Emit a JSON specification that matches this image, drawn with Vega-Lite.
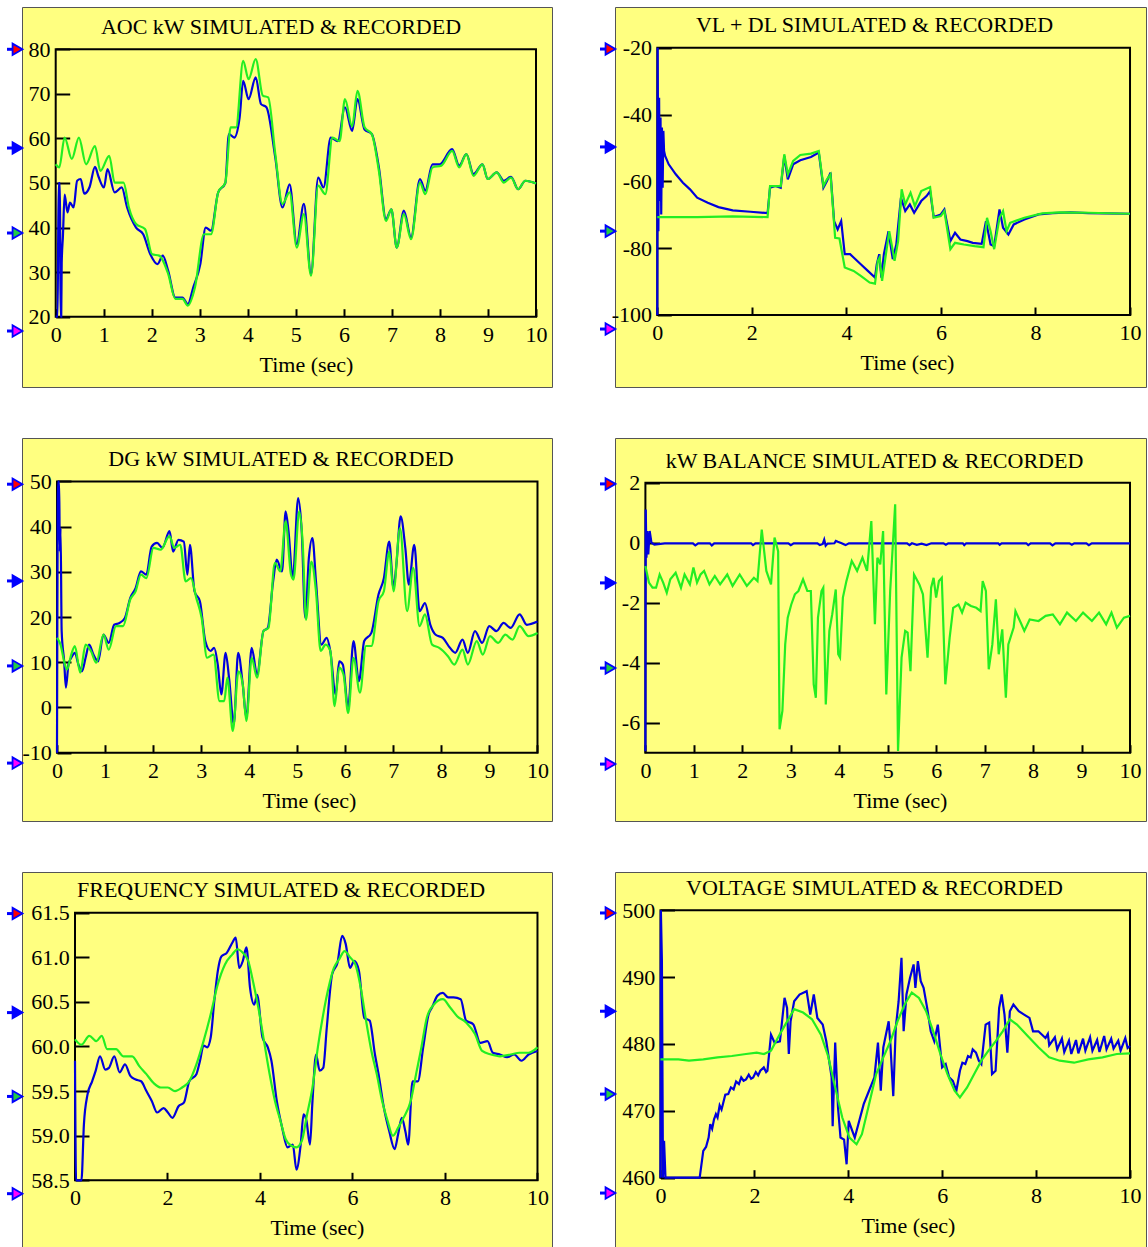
{
  "$schema": "https://vega.github.io/schema/vega-lite/v6.json",
  "background": "white",
  "padding": {"left": 4, "top": 6, "right": 2, "bottom": 0},
  "bounds": "flush",
  "columns": 2,
  "spacing": {"row": 51, "column": 63},
  "config": {
    "view": {"fill": "#FFFF80", "stroke": "#555555", "strokeWidth": 1},
    "font": "Liberation Serif",
    "axis": {"domain": false, "grid": false, "tickColor": "black", "tickWidth": 2, "labelFont": "Liberation Serif", "labelFontSize": 22, "labelColor": "black", "titleFont": "Liberation Serif", "titleFontSize": 22, "titleFontWeight": "normal", "titleColor": "black", "zindex": 1, "labelOverlap": false, "labelFlush": false},
    "axisX": {"tickSize": -8, "labelPadding": 32.3, "labelBaseline": "alphabetic", "titleBaseline": "alphabetic", "titleY": 54.5, "titleAlign": "center"},
    "axisY": {"tickSize": -14, "labelPadding": 19.7, "labelAlign": "right", "labelBaseline": "middle"},
    "title": {"font": "Liberation Serif", "fontSize": 22, "fontWeight": "normal", "color": "black", "anchor": "middle", "baseline": "alphabetic", "dx": -6, "frame": "group"},
    "line": {"strokeWidth": 2.2}
  },
  "datasets": {
    "p1": [
      {"s":"rec","t":0,"v":20},{"s":"rec","t":0.04,"v":20},{"s":"rec","t":0.06,"v":50},{"s":"rec","t":0.09,"v":50},{"s":"rec","t":0.1,"v":20},{"s":"rec","t":0.115,"v":20},{"s":"rec","t":0.125,"v":32},{"s":"rec","t":0.15,"v":38},{"s":"rec","t":0.186,"v":47.4},{"s":"rec","t":0.245,"v":43.4},{"s":"rec","t":0.297,"v":45.6},{"s":"rec","t":0.372,"v":44.5},{"s":"rec","t":0.446,"v":50.5},{"s":"rec","t":0.52,"v":50.9},{"s":"rec","t":0.595,"v":47.6},{"s":"rec","t":0.706,"v":49.1},{"s":"rec","t":0.818,"v":53.6},{"s":"rec","t":0.892,"v":51.4},{"s":"rec","t":1.004,"v":49},{"s":"rec","t":1.078,"v":53.1},{"s":"rec","t":1.227,"v":47.9},{"s":"rec","t":1.375,"v":49},{"s":"rec","t":1.487,"v":44.5},{"s":"rec","t":1.673,"v":40},{"s":"rec","t":1.822,"v":38.5},{"s":"rec","t":1.97,"v":34},{"s":"rec","t":2.119,"v":31.8},{"s":"rec","t":2.23,"v":33.7},{"s":"rec","t":2.342,"v":30.3},{"s":"rec","t":2.491,"v":24.3},{"s":"rec","t":2.639,"v":24.3},{"s":"rec","t":2.751,"v":22.8},{"s":"rec","t":2.862,"v":26.5},{"s":"rec","t":3.011,"v":31.8},{"s":"rec","t":3.123,"v":40},{"s":"rec","t":3.234,"v":39.3},{"s":"rec","t":3.383,"v":47.9},{"s":"rec","t":3.532,"v":50},{"s":"rec","t":3.606,"v":61},{"s":"rec","t":3.717,"v":60.2},{"s":"rec","t":3.829,"v":64.7},{"s":"rec","t":3.903,"v":72.9},{"s":"rec","t":4.015,"v":68.8},{"s":"rec","t":4.164,"v":73.7},{"s":"rec","t":4.275,"v":67.7},{"s":"rec","t":4.387,"v":67},{"s":"rec","t":4.572,"v":55.7},{"s":"rec","t":4.721,"v":44.5},{"s":"rec","t":4.87,"v":49.7},{"s":"rec","t":5.019,"v":36.3},{"s":"rec","t":5.167,"v":45.3},{"s":"rec","t":5.316,"v":29.6},{"s":"rec","t":5.465,"v":51.2},{"s":"rec","t":5.576,"v":49},{"s":"rec","t":5.725,"v":60.2},{"s":"rec","t":5.874,"v":59.4},{"s":"rec","t":6.022,"v":67},{"s":"rec","t":6.171,"v":61.7},{"s":"rec","t":6.283,"v":68.8},{"s":"rec","t":6.431,"v":62},{"s":"rec","t":6.58,"v":61},{"s":"rec","t":6.729,"v":53.5},{"s":"rec","t":6.877,"v":41.9},{"s":"rec","t":6.989,"v":44.1},{"s":"rec","t":7.1,"v":35.5},{"s":"rec","t":7.249,"v":43.8},{"s":"rec","t":7.398,"v":37.8},{"s":"rec","t":7.584,"v":50.9},{"s":"rec","t":7.695,"v":48.3},{"s":"rec","t":7.844,"v":54.2},{"s":"rec","t":7.993,"v":54.2},{"s":"rec","t":8.253,"v":57.6},{"s":"rec","t":8.401,"v":53.9},{"s":"rec","t":8.55,"v":56.5},{"s":"rec","t":8.699,"v":52},{"s":"rec","t":8.885,"v":54.2},{"s":"rec","t":8.996,"v":50.9},{"s":"rec","t":9.182,"v":52.4},{"s":"rec","t":9.331,"v":50.5},{"s":"rec","t":9.48,"v":51.4},{"s":"rec","t":9.628,"v":48.6},{"s":"rec","t":9.777,"v":50.5},{"s":"rec","t":10,"v":49.9},
      {"s":"sim","t":0,"v":54.2},{"s":"sim","t":0.074,"v":53.5},{"s":"sim","t":0.186,"v":60.2},{"s":"sim","t":0.335,"v":55.4},{"s":"sim","t":0.483,"v":60.2},{"s":"sim","t":0.632,"v":54.2},{"s":"sim","t":0.818,"v":58.3},{"s":"sim","t":0.929,"v":52.7},{"s":"sim","t":1.115,"v":56.1},{"s":"sim","t":1.227,"v":50.1},{"s":"sim","t":1.413,"v":50.1},{"s":"sim","t":1.524,"v":44.5},{"s":"sim","t":1.673,"v":40.8},{"s":"sim","t":1.859,"v":39.7},{"s":"sim","t":2.007,"v":34},{"s":"sim","t":2.156,"v":33.7},{"s":"sim","t":2.342,"v":29.6},{"s":"sim","t":2.491,"v":24},{"s":"sim","t":2.639,"v":24},{"s":"sim","t":2.751,"v":22.5},{"s":"sim","t":2.9,"v":26.6},{"s":"sim","t":3.086,"v":38.5},{"s":"sim","t":3.234,"v":38.5},{"s":"sim","t":3.383,"v":47.9},{"s":"sim","t":3.532,"v":50.1},{"s":"sim","t":3.643,"v":62.5},{"s":"sim","t":3.755,"v":62.5},{"s":"sim","t":3.903,"v":77.4},{"s":"sim","t":4.015,"v":73.3},{"s":"sim","t":4.164,"v":77.8},{"s":"sim","t":4.312,"v":69.6},{"s":"sim","t":4.424,"v":69.2},{"s":"sim","t":4.572,"v":56.5},{"s":"sim","t":4.721,"v":45.3},{"s":"sim","t":4.87,"v":47.9},{"s":"sim","t":5.019,"v":35.5},{"s":"sim","t":5.167,"v":43},{"s":"sim","t":5.316,"v":29.2},{"s":"sim","t":5.465,"v":49.4},{"s":"sim","t":5.613,"v":47.5},{"s":"sim","t":5.762,"v":60.2},{"s":"sim","t":5.911,"v":59.4},{"s":"sim","t":6.022,"v":68.8},{"s":"sim","t":6.171,"v":62.7},{"s":"sim","t":6.283,"v":70.7},{"s":"sim","t":6.431,"v":62.5},{"s":"sim","t":6.58,"v":61},{"s":"sim","t":6.729,"v":52.7},{"s":"sim","t":6.877,"v":41.5},{"s":"sim","t":6.989,"v":44.1},{"s":"sim","t":7.1,"v":35.5},{"s":"sim","t":7.249,"v":43},{"s":"sim","t":7.398,"v":37.4},{"s":"sim","t":7.584,"v":50.1},{"s":"sim","t":7.695,"v":47.5},{"s":"sim","t":7.844,"v":53.5},{"s":"sim","t":8.03,"v":53.9},{"s":"sim","t":8.253,"v":57.2},{"s":"sim","t":8.401,"v":53.5},{"s":"sim","t":8.55,"v":56.5},{"s":"sim","t":8.699,"v":51.6},{"s":"sim","t":8.885,"v":54.2},{"s":"sim","t":8.996,"v":50.9},{"s":"sim","t":9.182,"v":52.4},{"s":"sim","t":9.331,"v":50.1},{"s":"sim","t":9.48,"v":51.2},{"s":"sim","t":9.628,"v":48.6},{"s":"sim","t":9.777,"v":50.5},{"s":"sim","t":10,"v":49.9}
    ],
    "p2": [
      {"s":"rec","t":0,"v":-100},{"s":"rec","t":0.008,"v":-20},{"s":"rec","t":0.023,"v":-74.9},{"s":"rec","t":0.038,"v":-35},{"s":"rec","t":0.053,"v":-65.9},{"s":"rec","t":0.068,"v":-40.9},{"s":"rec","t":0.083,"v":-69.9},{"s":"rec","t":0.098,"v":-43.9},{"s":"rec","t":0.113,"v":-61.9},{"s":"rec","t":0.128,"v":-44.9},{"s":"rec","t":0.143,"v":-50.9},{"s":"rec","t":0.166,"v":-52.4},{"s":"rec","t":0.241,"v":-54.9},{"s":"rec","t":0.391,"v":-57.9},{"s":"rec","t":0.542,"v":-60.4},{"s":"rec","t":0.692,"v":-62.4},{"s":"rec","t":0.843,"v":-64.9},{"s":"rec","t":1.068,"v":-66.4},{"s":"rec","t":1.294,"v":-67.7},{"s":"rec","t":1.595,"v":-68.7},{"s":"rec","t":1.971,"v":-69.1},{"s":"rec","t":2.333,"v":-69.5},{"s":"rec","t":2.385,"v":-61.9},{"s":"rec","t":2.498,"v":-61.4},{"s":"rec","t":2.611,"v":-61.9},{"s":"rec","t":2.686,"v":-52.4},{"s":"rec","t":2.761,"v":-59.4},{"s":"rec","t":2.874,"v":-54.9},{"s":"rec","t":3.025,"v":-53.7},{"s":"rec","t":3.251,"v":-52.7},{"s":"rec","t":3.416,"v":-51.4},{"s":"rec","t":3.514,"v":-61.9},{"s":"rec","t":3.589,"v":-59.9},{"s":"rec","t":3.664,"v":-57.4},{"s":"rec","t":3.74,"v":-71.9},{"s":"rec","t":3.815,"v":-74.4},{"s":"rec","t":3.89,"v":-71.9},{"s":"rec","t":3.965,"v":-81.8},{"s":"rec","t":4.078,"v":-81.8},{"s":"rec","t":4.153,"v":-82.8},{"s":"rec","t":4.304,"v":-84.8},{"s":"rec","t":4.454,"v":-86.8},{"s":"rec","t":4.605,"v":-88.8},{"s":"rec","t":4.643,"v":-84.8},{"s":"rec","t":4.695,"v":-81.8},{"s":"rec","t":4.74,"v":-88.8},{"s":"rec","t":4.793,"v":-81.8},{"s":"rec","t":4.891,"v":-74.9},{"s":"rec","t":4.981,"v":-83.3},{"s":"rec","t":5.056,"v":-78.9},{"s":"rec","t":5.154,"v":-64.9},{"s":"rec","t":5.245,"v":-68.9},{"s":"rec","t":5.342,"v":-66.9},{"s":"rec","t":5.433,"v":-69.4},{"s":"rec","t":5.583,"v":-65.9},{"s":"rec","t":5.696,"v":-64.4},{"s":"rec","t":5.771,"v":-62.9},{"s":"rec","t":5.847,"v":-70.7},{"s":"rec","t":5.997,"v":-69.9},{"s":"rec","t":6.072,"v":-68.4},{"s":"rec","t":6.2,"v":-77.9},{"s":"rec","t":6.298,"v":-75.4},{"s":"rec","t":6.411,"v":-77.4},{"s":"rec","t":6.561,"v":-77.9},{"s":"rec","t":6.674,"v":-78.4},{"s":"rec","t":6.862,"v":-78.7},{"s":"rec","t":6.953,"v":-71.9},{"s":"rec","t":7.05,"v":-78.9},{"s":"rec","t":7.126,"v":-79.4},{"s":"rec","t":7.239,"v":-68.4},{"s":"rec","t":7.314,"v":-73.9},{"s":"rec","t":7.427,"v":-75.9},{"s":"rec","t":7.54,"v":-72.9},{"s":"rec","t":7.765,"v":-71.4},{"s":"rec","t":8.066,"v":-69.9},{"s":"rec","t":8.367,"v":-69.5},{"s":"rec","t":8.743,"v":-69.3},{"s":"rec","t":9.12,"v":-69.5},{"s":"rec","t":9.496,"v":-69.6},{"s":"rec","t":10,"v":-69.7},
      {"s":"sim","t":0,"v":-70.7},{"s":"sim","t":0.843,"v":-70.7},{"s":"sim","t":1.595,"v":-70.5},{"s":"sim","t":2.333,"v":-70.7},{"s":"sim","t":2.385,"v":-61.4},{"s":"sim","t":2.498,"v":-61.4},{"s":"sim","t":2.611,"v":-61.4},{"s":"sim","t":2.686,"v":-51.9},{"s":"sim","t":2.761,"v":-57.9},{"s":"sim","t":2.874,"v":-53.9},{"s":"sim","t":3.025,"v":-52.1},{"s":"sim","t":3.251,"v":-51.7},{"s":"sim","t":3.416,"v":-50.9},{"s":"sim","t":3.514,"v":-61.4},{"s":"sim","t":3.589,"v":-59.4},{"s":"sim","t":3.664,"v":-57.9},{"s":"sim","t":3.762,"v":-76.9},{"s":"sim","t":3.853,"v":-77.1},{"s":"sim","t":3.965,"v":-85.8},{"s":"sim","t":4.153,"v":-86.8},{"s":"sim","t":4.304,"v":-88.3},{"s":"sim","t":4.492,"v":-90.3},{"s":"sim","t":4.605,"v":-90.6},{"s":"sim","t":4.665,"v":-83.8},{"s":"sim","t":4.703,"v":-82.8},{"s":"sim","t":4.755,"v":-89.8},{"s":"sim","t":4.816,"v":-83.8},{"s":"sim","t":4.906,"v":-74.9},{"s":"sim","t":5.019,"v":-83.8},{"s":"sim","t":5.094,"v":-77.9},{"s":"sim","t":5.169,"v":-62.4},{"s":"sim","t":5.245,"v":-66.9},{"s":"sim","t":5.357,"v":-63.4},{"s":"sim","t":5.448,"v":-67.4},{"s":"sim","t":5.583,"v":-62.9},{"s":"sim","t":5.771,"v":-61.7},{"s":"sim","t":5.847,"v":-70.9},{"s":"sim","t":5.997,"v":-70.4},{"s":"sim","t":6.072,"v":-68.9},{"s":"sim","t":6.2,"v":-80.3},{"s":"sim","t":6.298,"v":-78.4},{"s":"sim","t":6.486,"v":-78.9},{"s":"sim","t":6.712,"v":-79.4},{"s":"sim","t":6.9,"v":-79.7},{"s":"sim","t":6.975,"v":-70.9},{"s":"sim","t":7.05,"v":-74.9},{"s":"sim","t":7.126,"v":-80.3},{"s":"sim","t":7.239,"v":-70.9},{"s":"sim","t":7.314,"v":-68.9},{"s":"sim","t":7.389,"v":-74.9},{"s":"sim","t":7.464,"v":-72.4},{"s":"sim","t":7.765,"v":-70.9},{"s":"sim","t":8.141,"v":-69.6},{"s":"sim","t":8.518,"v":-69.3},{"s":"sim","t":9.12,"v":-69.4},{"s":"sim","t":10,"v":-69.7}
    ],
    "p3": [
      {"s":"rec","t":0,"v":-10},{"s":"rec","t":0.022,"v":50},{"s":"rec","t":0.045,"v":50},{"s":"rec","t":0.059,"v":34.5},{"s":"rec","t":0.074,"v":39.7},{"s":"rec","t":0.097,"v":16.9},{"s":"rec","t":0.149,"v":10.2},{"s":"rec","t":0.186,"v":4.4},{"s":"rec","t":0.238,"v":9.5},{"s":"rec","t":0.297,"v":11},{"s":"rec","t":0.372,"v":12.1},{"s":"rec","t":0.446,"v":9.5},{"s":"rec","t":0.52,"v":8},{"s":"rec","t":0.595,"v":11},{"s":"rec","t":0.669,"v":13.9},{"s":"rec","t":0.758,"v":11.7},{"s":"rec","t":0.855,"v":10.2},{"s":"rec","t":0.967,"v":16.1},{"s":"rec","t":1.078,"v":14.3},{"s":"rec","t":1.19,"v":18.3},{"s":"rec","t":1.301,"v":18.7},{"s":"rec","t":1.413,"v":19.8},{"s":"rec","t":1.524,"v":24.2},{"s":"rec","t":1.636,"v":26.4},{"s":"rec","t":1.747,"v":30.1},{"s":"rec","t":1.859,"v":29.4},{"s":"rec","t":1.97,"v":35.6},{"s":"rec","t":2.082,"v":36.4},{"s":"rec","t":2.193,"v":35.3},{"s":"rec","t":2.342,"v":39},{"s":"rec","t":2.416,"v":34.5},{"s":"rec","t":2.528,"v":37.1},{"s":"rec","t":2.639,"v":36.7},{"s":"rec","t":2.714,"v":29.4},{"s":"rec","t":2.766,"v":36},{"s":"rec","t":2.862,"v":25.7},{"s":"rec","t":2.974,"v":23.5},{"s":"rec","t":3.086,"v":14.7},{"s":"rec","t":3.197,"v":12.5},{"s":"rec","t":3.271,"v":13.2},{"s":"rec","t":3.346,"v":9.5},{"s":"rec","t":3.42,"v":2.9},{"s":"rec","t":3.509,"v":12.1},{"s":"rec","t":3.584,"v":6.2},{"s":"rec","t":3.68,"v":-3.7},{"s":"rec","t":3.77,"v":12.1},{"s":"rec","t":3.866,"v":5.1},{"s":"rec","t":3.941,"v":-2.3},{"s":"rec","t":4.052,"v":13.2},{"s":"rec","t":4.164,"v":7.3},{"s":"rec","t":4.297,"v":16.9},{"s":"rec","t":4.387,"v":17.6},{"s":"rec","t":4.498,"v":27.9},{"s":"rec","t":4.572,"v":32.7},{"s":"rec","t":4.684,"v":30.1},{"s":"rec","t":4.758,"v":43.4},{"s":"rec","t":4.818,"v":39},{"s":"rec","t":4.907,"v":28.6},{"s":"rec","t":5.019,"v":46.3},{"s":"rec","t":5.093,"v":39},{"s":"rec","t":5.167,"v":19.8},{"s":"rec","t":5.242,"v":33.1},{"s":"rec","t":5.316,"v":37.5},{"s":"rec","t":5.39,"v":27.9},{"s":"rec","t":5.502,"v":13.9},{"s":"rec","t":5.613,"v":15.4},{"s":"rec","t":5.688,"v":12.5},{"s":"rec","t":5.799,"v":2.9},{"s":"rec","t":5.874,"v":10.2},{"s":"rec","t":5.948,"v":9.5},{"s":"rec","t":6.059,"v":0},{"s":"rec","t":6.171,"v":14.7},{"s":"rec","t":6.283,"v":5.8},{"s":"rec","t":6.394,"v":14.7},{"s":"rec","t":6.543,"v":16.5},{"s":"rec","t":6.691,"v":25},{"s":"rec","t":6.803,"v":28.6},{"s":"rec","t":6.914,"v":36.7},{"s":"rec","t":7.004,"v":26.4},{"s":"rec","t":7.063,"v":31.6},{"s":"rec","t":7.152,"v":42.3},{"s":"rec","t":7.249,"v":35.3},{"s":"rec","t":7.323,"v":27.2},{"s":"rec","t":7.435,"v":36},{"s":"rec","t":7.546,"v":21.3},{"s":"rec","t":7.658,"v":23.1},{"s":"rec","t":7.77,"v":18.3},{"s":"rec","t":7.881,"v":16.1},{"s":"rec","t":8.03,"v":15.4},{"s":"rec","t":8.178,"v":13.2},{"s":"rec","t":8.29,"v":12.1},{"s":"rec","t":8.439,"v":15},{"s":"rec","t":8.55,"v":12.1},{"s":"rec","t":8.699,"v":16.9},{"s":"rec","t":8.848,"v":14.3},{"s":"rec","t":8.996,"v":18},{"s":"rec","t":9.145,"v":16.9},{"s":"rec","t":9.294,"v":18.7},{"s":"rec","t":9.442,"v":17.6},{"s":"rec","t":9.628,"v":20.6},{"s":"rec","t":9.777,"v":18.3},{"s":"rec","t":10,"v":19},
      {"s":"sim","t":0,"v":15.4},{"s":"sim","t":0.074,"v":13.9},{"s":"sim","t":0.149,"v":10.2},{"s":"sim","t":0.208,"v":8.4},{"s":"sim","t":0.297,"v":11.7},{"s":"sim","t":0.372,"v":13.6},{"s":"sim","t":0.483,"v":7.7},{"s":"sim","t":0.595,"v":13.9},{"s":"sim","t":0.706,"v":12.5},{"s":"sim","t":0.818,"v":9.9},{"s":"sim","t":0.967,"v":16.1},{"s":"sim","t":1.078,"v":12.8},{"s":"sim","t":1.227,"v":18},{"s":"sim","t":1.375,"v":18},{"s":"sim","t":1.524,"v":23.9},{"s":"sim","t":1.636,"v":25.7},{"s":"sim","t":1.747,"v":29.4},{"s":"sim","t":1.859,"v":28.6},{"s":"sim","t":2.007,"v":35.3},{"s":"sim","t":2.156,"v":34.9},{"s":"sim","t":2.342,"v":37.9},{"s":"sim","t":2.439,"v":35.3},{"s":"sim","t":2.565,"v":36},{"s":"sim","t":2.677,"v":27.9},{"s":"sim","t":2.788,"v":28.6},{"s":"sim","t":2.9,"v":24.2},{"s":"sim","t":3.011,"v":19.8},{"s":"sim","t":3.123,"v":11},{"s":"sim","t":3.257,"v":11.7},{"s":"sim","t":3.383,"v":1.4},{"s":"sim","t":3.48,"v":1.4},{"s":"sim","t":3.546,"v":6.6},{"s":"sim","t":3.658,"v":-5.2},{"s":"sim","t":3.777,"v":8},{"s":"sim","t":3.866,"v":5.1},{"s":"sim","t":3.941,"v":-3},{"s":"sim","t":4.052,"v":11},{"s":"sim","t":4.164,"v":6.6},{"s":"sim","t":4.297,"v":16.9},{"s":"sim","t":4.401,"v":17.6},{"s":"sim","t":4.535,"v":32},{"s":"sim","t":4.647,"v":30.1},{"s":"sim","t":4.758,"v":41.2},{"s":"sim","t":4.87,"v":29.4},{"s":"sim","t":4.922,"v":28.3},{"s":"sim","t":5.041,"v":43.4},{"s":"sim","t":5.115,"v":36},{"s":"sim","t":5.182,"v":19.4},{"s":"sim","t":5.294,"v":32.3},{"s":"sim","t":5.39,"v":25.7},{"s":"sim","t":5.487,"v":12.5},{"s":"sim","t":5.591,"v":13.9},{"s":"sim","t":5.688,"v":12.5},{"s":"sim","t":5.777,"v":0.3},{"s":"sim","t":5.874,"v":8.8},{"s":"sim","t":5.963,"v":7.3},{"s":"sim","t":6.059,"v":-1.2},{"s":"sim","t":6.171,"v":11},{"s":"sim","t":6.305,"v":3.3},{"s":"sim","t":6.431,"v":13.6},{"s":"sim","t":6.543,"v":13.6},{"s":"sim","t":6.691,"v":23.5},{"s":"sim","t":6.803,"v":25.7},{"s":"sim","t":6.914,"v":34.5},{"s":"sim","t":7.004,"v":25.7},{"s":"sim","t":7.138,"v":39.7},{"s":"sim","t":7.286,"v":21.3},{"s":"sim","t":7.413,"v":30.9},{"s":"sim","t":7.546,"v":18},{"s":"sim","t":7.658,"v":20.6},{"s":"sim","t":7.807,"v":13.9},{"s":"sim","t":7.955,"v":13.2},{"s":"sim","t":8.141,"v":11.3},{"s":"sim","t":8.268,"v":9.5},{"s":"sim","t":8.439,"v":12.8},{"s":"sim","t":8.55,"v":9.5},{"s":"sim","t":8.736,"v":14.7},{"s":"sim","t":8.862,"v":11.7},{"s":"sim","t":9.011,"v":15.8},{"s":"sim","t":9.182,"v":14.3},{"s":"sim","t":9.331,"v":16.1},{"s":"sim","t":9.48,"v":15},{"s":"sim","t":9.628,"v":18},{"s":"sim","t":9.814,"v":15.8},{"s":"sim","t":10,"v":16.5}
    ],
    "p4": [
      {"s":"rec","t":0,"v":-6.95},{"s":"rec","t":0.007,"v":1.11},{"s":"rec","t":0.022,"v":-0.5},{"s":"rec","t":0.037,"v":0.39},{"s":"rec","t":0.059,"v":-0.39},{"s":"rec","t":0.088,"v":0.39},{"s":"rec","t":0.125,"v":0},{"s":"rec","t":0.184,"v":-0.06},{"s":"rec","t":0.4,"v":-0.02},{"s":"rec","t":0.98,"v":-0.02},{"s":"rec","t":1.03,"v":-0.09},{"s":"rec","t":1.09,"v":-0.02},{"s":"rec","t":1.33,"v":-0.02},{"s":"rec","t":1.37,"v":-0.09},{"s":"rec","t":1.42,"v":-0.02},{"s":"rec","t":2.18,"v":-0.02},{"s":"rec","t":2.22,"v":-0.08},{"s":"rec","t":2.27,"v":-0.02},{"s":"rec","t":2.95,"v":-0.02},{"s":"rec","t":3,"v":-0.08},{"s":"rec","t":3.06,"v":-0.02},{"s":"rec","t":3.55,"v":-0.02},{"s":"rec","t":3.6,"v":-0.08},{"s":"rec","t":3.66,"v":-0.04},{"s":"rec","t":3.69,"v":0.1},{"s":"rec","t":3.72,"v":-0.1},{"s":"rec","t":3.76,"v":-0.03},{"s":"rec","t":3.9,"v":-0.02},{"s":"rec","t":3.93,"v":0.06},{"s":"rec","t":3.97,"v":0.03},{"s":"rec","t":4.05,"v":-0.02},{"s":"rec","t":4.13,"v":-0.08},{"s":"rec","t":4.2,"v":-0.02},{"s":"rec","t":5.4,"v":-0.02},{"s":"rec","t":5.45,"v":-0.08},{"s":"rec","t":5.5,"v":-0.02},{"s":"rec","t":5.6,"v":-0.07},{"s":"rec","t":5.7,"v":-0.03},{"s":"rec","t":5.8,"v":-0.08},{"s":"rec","t":5.9,"v":-0.02},{"s":"rec","t":6.15,"v":-0.02},{"s":"rec","t":6.2,"v":-0.07},{"s":"rec","t":6.25,"v":-0.02},{"s":"rec","t":6.55,"v":-0.02},{"s":"rec","t":6.58,"v":-0.08},{"s":"rec","t":6.62,"v":-0.02},{"s":"rec","t":7.28,"v":-0.02},{"s":"rec","t":7.31,"v":-0.07},{"s":"rec","t":7.35,"v":-0.02},{"s":"rec","t":7.86,"v":-0.02},{"s":"rec","t":7.9,"v":-0.08},{"s":"rec","t":7.95,"v":-0.02},{"s":"rec","t":8.35,"v":-0.02},{"s":"rec","t":8.4,"v":-0.09},{"s":"rec","t":8.46,"v":-0.02},{"s":"rec","t":8.75,"v":-0.02},{"s":"rec","t":8.8,"v":-0.07},{"s":"rec","t":8.85,"v":-0.02},{"s":"rec","t":9.1,"v":-0.02},{"s":"rec","t":9.15,"v":-0.08},{"s":"rec","t":9.21,"v":-0.02},{"s":"rec","t":10,"v":-0.02},
      {"s":"sim","t":0,"v":-0.78},{"s":"sim","t":0.073,"v":-1.33},{"s":"sim","t":0.147,"v":-1.5},{"s":"sim","t":0.22,"v":-1.5},{"s":"sim","t":0.294,"v":-1.06},{"s":"sim","t":0.367,"v":-1.33},{"s":"sim","t":0.441,"v":-1.67},{"s":"sim","t":0.514,"v":-1.22},{"s":"sim","t":0.624,"v":-1},{"s":"sim","t":0.734,"v":-1.5},{"s":"sim","t":0.808,"v":-1.06},{"s":"sim","t":0.918,"v":-1.39},{"s":"sim","t":0.991,"v":-0.83},{"s":"sim","t":1.065,"v":-1.33},{"s":"sim","t":1.138,"v":-1.06},{"s":"sim","t":1.211,"v":-0.94},{"s":"sim","t":1.322,"v":-1.39},{"s":"sim","t":1.432,"v":-1.11},{"s":"sim","t":1.542,"v":-1.39},{"s":"sim","t":1.689,"v":-1.06},{"s":"sim","t":1.799,"v":-1.44},{"s":"sim","t":1.946,"v":-1.06},{"s":"sim","t":2.093,"v":-1.44},{"s":"sim","t":2.239,"v":-1.17},{"s":"sim","t":2.313,"v":-1.28},{"s":"sim","t":2.401,"v":0.44},{"s":"sim","t":2.496,"v":-0.94},{"s":"sim","t":2.592,"v":-1.39},{"s":"sim","t":2.665,"v":0.17},{"s":"sim","t":2.739,"v":-0.28},{"s":"sim","t":2.768,"v":-6.22},{"s":"sim","t":2.827,"v":-5.61},{"s":"sim","t":2.885,"v":-3.39},{"s":"sim","t":2.937,"v":-2.5},{"s":"sim","t":3.01,"v":-2.06},{"s":"sim","t":3.084,"v":-1.72},{"s":"sim","t":3.157,"v":-1.61},{"s":"sim","t":3.253,"v":-1.22},{"s":"sim","t":3.341,"v":-1.61},{"s":"sim","t":3.414,"v":-1.61},{"s":"sim","t":3.473,"v":-4.72},{"s":"sim","t":3.517,"v":-5.17},{"s":"sim","t":3.561,"v":-2.5},{"s":"sim","t":3.634,"v":-1.61},{"s":"sim","t":3.671,"v":-1.5},{"s":"sim","t":3.722,"v":-5.39},{"s":"sim","t":3.796,"v":-2.94},{"s":"sim","t":3.855,"v":-2.39},{"s":"sim","t":3.928,"v":-1.56},{"s":"sim","t":3.979,"v":-3.72},{"s":"sim","t":4.016,"v":-3.83},{"s":"sim","t":4.075,"v":-1.83},{"s":"sim","t":4.148,"v":-1.28},{"s":"sim","t":4.258,"v":-0.61},{"s":"sim","t":4.369,"v":-0.94},{"s":"sim","t":4.479,"v":-0.5},{"s":"sim","t":4.574,"v":-0.94},{"s":"sim","t":4.662,"v":0.72},{"s":"sim","t":4.736,"v":-2.72},{"s":"sim","t":4.787,"v":-0.5},{"s":"sim","t":4.846,"v":-0.72},{"s":"sim","t":4.905,"v":0.39},{"s":"sim","t":4.971,"v":-5.06},{"s":"sim","t":5.051,"v":-1.61},{"s":"sim","t":5.154,"v":1.28},{"s":"sim","t":5.213,"v":-6.94},{"s":"sim","t":5.286,"v":-3.83},{"s":"sim","t":5.36,"v":-2.94},{"s":"sim","t":5.411,"v":-3},{"s":"sim","t":5.47,"v":-4.28},{"s":"sim","t":5.543,"v":-1.06},{"s":"sim","t":5.653,"v":-1.39},{"s":"sim","t":5.727,"v":-1.72},{"s":"sim","t":5.822,"v":-3.83},{"s":"sim","t":5.896,"v":-1.5},{"s":"sim","t":5.947,"v":-1.17},{"s":"sim","t":5.999,"v":-1.83},{"s":"sim","t":6.057,"v":-1.28},{"s":"sim","t":6.116,"v":-1.17},{"s":"sim","t":6.189,"v":-4.72},{"s":"sim","t":6.278,"v":-3.17},{"s":"sim","t":6.351,"v":-2.17},{"s":"sim","t":6.461,"v":-2.06},{"s":"sim","t":6.535,"v":-2.33},{"s":"sim","t":6.608,"v":-2},{"s":"sim","t":6.718,"v":-2.11},{"s":"sim","t":6.828,"v":-2.17},{"s":"sim","t":6.916,"v":-2.28},{"s":"sim","t":6.96,"v":-1.28},{"s":"sim","t":7.026,"v":-1.61},{"s":"sim","t":7.085,"v":-4.22},{"s":"sim","t":7.159,"v":-3.39},{"s":"sim","t":7.232,"v":-1.89},{"s":"sim","t":7.291,"v":-3.72},{"s":"sim","t":7.364,"v":-2.89},{"s":"sim","t":7.438,"v":-5.17},{"s":"sim","t":7.489,"v":-3.39},{"s":"sim","t":7.599,"v":-2.83},{"s":"sim","t":7.636,"v":-2.28},{"s":"sim","t":7.746,"v":-2.67},{"s":"sim","t":7.819,"v":-2.94},{"s":"sim","t":7.93,"v":-2.56},{"s":"sim","t":8.113,"v":-2.61},{"s":"sim","t":8.26,"v":-2.44},{"s":"sim","t":8.407,"v":-2.39},{"s":"sim","t":8.554,"v":-2.72},{"s":"sim","t":8.7,"v":-2.33},{"s":"sim","t":8.884,"v":-2.61},{"s":"sim","t":9.031,"v":-2.33},{"s":"sim","t":9.214,"v":-2.61},{"s":"sim","t":9.361,"v":-2.33},{"s":"sim","t":9.508,"v":-2.72},{"s":"sim","t":9.618,"v":-2.33},{"s":"sim","t":9.729,"v":-2.83},{"s":"sim","t":9.875,"v":-2.5},{"s":"sim","t":10,"v":-2.44}
    ],
    "p5": [
      {"s":"rec","t":0,"v":59.84},{"s":"rec","t":0.023,"v":58.5},{"s":"rec","t":0.139,"v":58.5},{"s":"rec","t":0.193,"v":59.13},{"s":"rec","t":0.27,"v":59.46},{"s":"rec","t":0.371,"v":59.61},{"s":"rec","t":0.448,"v":59.73},{"s":"rec","t":0.541,"v":59.89},{"s":"rec","t":0.656,"v":59.74},{"s":"rec","t":0.734,"v":59.76},{"s":"rec","t":0.849,"v":59.89},{"s":"rec","t":0.965,"v":59.71},{"s":"rec","t":1.081,"v":59.8},{"s":"rec","t":1.197,"v":59.67},{"s":"rec","t":1.313,"v":59.63},{"s":"rec","t":1.429,"v":59.61},{"s":"rec","t":1.544,"v":59.5},{"s":"rec","t":1.66,"v":59.39},{"s":"rec","t":1.776,"v":59.26},{"s":"rec","t":1.915,"v":59.31},{"s":"rec","t":2.008,"v":59.26},{"s":"rec","t":2.108,"v":59.2},{"s":"rec","t":2.239,"v":59.33},{"s":"rec","t":2.355,"v":59.37},{"s":"rec","t":2.471,"v":59.61},{"s":"rec","t":2.625,"v":59.69},{"s":"rec","t":2.703,"v":59.84},{"s":"rec","t":2.78,"v":60.01},{"s":"rec","t":2.857,"v":59.99},{"s":"rec","t":2.934,"v":60.1},{"s":"rec","t":3.012,"v":60.51},{"s":"rec","t":3.089,"v":60.85},{"s":"rec","t":3.166,"v":61.01},{"s":"rec","t":3.282,"v":61.05},{"s":"rec","t":3.398,"v":61.16},{"s":"rec","t":3.475,"v":61.22},{"s":"rec","t":3.552,"v":60.88},{"s":"rec","t":3.629,"v":60.96},{"s":"rec","t":3.707,"v":61.11},{"s":"rec","t":3.784,"v":60.66},{"s":"rec","t":3.876,"v":60.47},{"s":"rec","t":3.938,"v":60.58},{"s":"rec","t":4.054,"v":60.1},{"s":"rec","t":4.17,"v":59.99},{"s":"rec","t":4.247,"v":59.84},{"s":"rec","t":4.363,"v":59.39},{"s":"rec","t":4.479,"v":59.09},{"s":"rec","t":4.595,"v":58.87},{"s":"rec","t":4.71,"v":58.9},{"s":"rec","t":4.788,"v":58.62},{"s":"rec","t":4.88,"v":58.9},{"s":"rec","t":4.942,"v":59.24},{"s":"rec","t":5.004,"v":59.17},{"s":"rec","t":5.081,"v":58.9},{"s":"rec","t":5.135,"v":59.39},{"s":"rec","t":5.212,"v":59.91},{"s":"rec","t":5.29,"v":59.73},{"s":"rec","t":5.367,"v":59.76},{"s":"rec","t":5.444,"v":60.21},{"s":"rec","t":5.56,"v":60.81},{"s":"rec","t":5.676,"v":60.94},{"s":"rec","t":5.776,"v":61.24},{"s":"rec","t":5.853,"v":61.15},{"s":"rec","t":5.946,"v":60.88},{"s":"rec","t":6.039,"v":60.96},{"s":"rec","t":6.139,"v":60.85},{"s":"rec","t":6.255,"v":60.32},{"s":"rec","t":6.371,"v":60.29},{"s":"rec","t":6.486,"v":59.91},{"s":"rec","t":6.564,"v":59.69},{"s":"rec","t":6.68,"v":59.31},{"s":"rec","t":6.795,"v":59.05},{"s":"rec","t":6.911,"v":58.85},{"s":"rec","t":6.988,"v":59.02},{"s":"rec","t":7.066,"v":59.2},{"s":"rec","t":7.143,"v":59.05},{"s":"rec","t":7.205,"v":58.9},{"s":"rec","t":7.297,"v":59.61},{"s":"rec","t":7.413,"v":59.61},{"s":"rec","t":7.529,"v":59.99},{"s":"rec","t":7.645,"v":60.36},{"s":"rec","t":7.722,"v":60.44},{"s":"rec","t":7.838,"v":60.57},{"s":"rec","t":7.954,"v":60.6},{"s":"rec","t":8.069,"v":60.55},{"s":"rec","t":8.185,"v":60.55},{"s":"rec","t":8.34,"v":60.53},{"s":"rec","t":8.456,"v":60.29},{"s":"rec","t":8.61,"v":60.25},{"s":"rec","t":8.764,"v":60.04},{"s":"rec","t":8.919,"v":60.06},{"s":"rec","t":9.035,"v":59.93},{"s":"rec","t":9.189,"v":59.91},{"s":"rec","t":9.344,"v":59.88},{"s":"rec","t":9.498,"v":59.91},{"s":"rec","t":9.653,"v":59.84},{"s":"rec","t":9.807,"v":59.91},{"s":"rec","t":10,"v":59.95},
      {"s":"sim","t":0,"v":60.08},{"s":"sim","t":0.139,"v":60.02},{"s":"sim","t":0.309,"v":60.12},{"s":"sim","t":0.463,"v":60.06},{"s":"sim","t":0.579,"v":60.12},{"s":"sim","t":0.695,"v":59.97},{"s":"sim","t":0.888,"v":59.97},{"s":"sim","t":1.042,"v":59.89},{"s":"sim","t":1.236,"v":59.89},{"s":"sim","t":1.39,"v":59.78},{"s":"sim","t":1.544,"v":59.69},{"s":"sim","t":1.699,"v":59.59},{"s":"sim","t":1.853,"v":59.54},{"s":"sim","t":2.008,"v":59.54},{"s":"sim","t":2.162,"v":59.5},{"s":"sim","t":2.317,"v":59.54},{"s":"sim","t":2.471,"v":59.61},{"s":"sim","t":2.625,"v":59.8},{"s":"sim","t":2.78,"v":60.06},{"s":"sim","t":2.934,"v":60.36},{"s":"sim","t":3.089,"v":60.7},{"s":"sim","t":3.243,"v":60.92},{"s":"sim","t":3.398,"v":61.03},{"s":"sim","t":3.514,"v":61.09},{"s":"sim","t":3.629,"v":61.05},{"s":"sim","t":3.745,"v":60.96},{"s":"sim","t":3.861,"v":60.7},{"s":"sim","t":3.977,"v":60.4},{"s":"sim","t":4.093,"v":60.04},{"s":"sim","t":4.208,"v":59.69},{"s":"sim","t":4.324,"v":59.39},{"s":"sim","t":4.44,"v":59.17},{"s":"sim","t":4.556,"v":58.96},{"s":"sim","t":4.672,"v":58.89},{"s":"sim","t":4.788,"v":58.87},{"s":"sim","t":4.903,"v":58.94},{"s":"sim","t":5.019,"v":59.24},{"s":"sim","t":5.135,"v":59.54},{"s":"sim","t":5.251,"v":59.99},{"s":"sim","t":5.367,"v":60.36},{"s":"sim","t":5.483,"v":60.66},{"s":"sim","t":5.598,"v":60.88},{"s":"sim","t":5.714,"v":60.98},{"s":"sim","t":5.83,"v":61.07},{"s":"sim","t":5.946,"v":61},{"s":"sim","t":6.062,"v":60.92},{"s":"sim","t":6.178,"v":60.66},{"s":"sim","t":6.293,"v":60.29},{"s":"sim","t":6.409,"v":59.95},{"s":"sim","t":6.525,"v":59.69},{"s":"sim","t":6.641,"v":59.39},{"s":"sim","t":6.757,"v":59.17},{"s":"sim","t":6.873,"v":59},{"s":"sim","t":6.988,"v":59.09},{"s":"sim","t":7.104,"v":59.2},{"s":"sim","t":7.259,"v":59.39},{"s":"sim","t":7.375,"v":59.69},{"s":"sim","t":7.49,"v":59.99},{"s":"sim","t":7.606,"v":60.32},{"s":"sim","t":7.761,"v":60.47},{"s":"sim","t":7.954,"v":60.53},{"s":"sim","t":8.108,"v":60.44},{"s":"sim","t":8.263,"v":60.34},{"s":"sim","t":8.456,"v":60.27},{"s":"sim","t":8.649,"v":60.14},{"s":"sim","t":8.803,"v":59.95},{"s":"sim","t":8.996,"v":59.91},{"s":"sim","t":9.189,"v":59.89},{"s":"sim","t":9.421,"v":59.91},{"s":"sim","t":9.614,"v":59.93},{"s":"sim","t":9.807,"v":59.93},{"s":"sim","t":10,"v":59.99}
    ],
    "p6": [
      {"s":"rec","t":0,"v":460},{"s":"rec","t":0.008,"v":500},{"s":"rec","t":0.03,"v":492.4},{"s":"rec","t":0.053,"v":460},{"s":"rec","t":0.076,"v":465.5},{"s":"rec","t":0.106,"v":460},{"s":"rec","t":0.835,"v":460},{"s":"rec","t":0.911,"v":464},{"s":"rec","t":0.97,"v":464.6},{"s":"rec","t":1.025,"v":466},{"s":"rec","t":1.06,"v":468},{"s":"rec","t":1.1,"v":467.3},{"s":"rec","t":1.139,"v":468.7},{"s":"rec","t":1.18,"v":469.5},{"s":"rec","t":1.215,"v":469},{"s":"rec","t":1.26,"v":470.8},{"s":"rec","t":1.3,"v":470.2},{"s":"rec","t":1.329,"v":471},{"s":"rec","t":1.38,"v":472.4},{"s":"rec","t":1.443,"v":472.5},{"s":"rec","t":1.5,"v":473.5},{"s":"rec","t":1.557,"v":473.2},{"s":"rec","t":1.61,"v":474.4},{"s":"rec","t":1.67,"v":474},{"s":"rec","t":1.72,"v":475},{"s":"rec","t":1.77,"v":474.5},{"s":"rec","t":1.822,"v":474.7},{"s":"rec","t":1.88,"v":475.4},{"s":"rec","t":1.93,"v":474.8},{"s":"rec","t":1.974,"v":475},{"s":"rec","t":2.03,"v":475.8},{"s":"rec","t":2.08,"v":475.3},{"s":"rec","t":2.126,"v":476},{"s":"rec","t":2.2,"v":476.5},{"s":"rec","t":2.25,"v":475.8},{"s":"rec","t":2.278,"v":476},{"s":"rec","t":2.354,"v":481.4},{"s":"rec","t":2.43,"v":480.2},{"s":"rec","t":2.544,"v":480.4},{"s":"rec","t":2.642,"v":486.9},{"s":"rec","t":2.696,"v":485.4},{"s":"rec","t":2.733,"v":478.5},{"s":"rec","t":2.771,"v":483.4},{"s":"rec","t":2.847,"v":486.4},{"s":"rec","t":2.961,"v":487.4},{"s":"rec","t":3.113,"v":487.9},{"s":"rec","t":3.189,"v":484.4},{"s":"rec","t":3.265,"v":487.4},{"s":"rec","t":3.341,"v":483.9},{"s":"rec","t":3.455,"v":482.9},{"s":"rec","t":3.531,"v":480.4},{"s":"rec","t":3.645,"v":475},{"s":"rec","t":3.667,"v":467.7},{"s":"rec","t":3.721,"v":480.2},{"s":"rec","t":3.781,"v":470.5},{"s":"rec","t":3.834,"v":466},{"s":"rec","t":3.91,"v":465.7},{"s":"rec","t":3.964,"v":462},{"s":"rec","t":4.009,"v":468.5},{"s":"rec","t":4.085,"v":467},{"s":"rec","t":4.138,"v":466},{"s":"rec","t":4.214,"v":468},{"s":"rec","t":4.328,"v":471},{"s":"rec","t":4.442,"v":473},{"s":"rec","t":4.556,"v":475},{"s":"rec","t":4.632,"v":480.2},{"s":"rec","t":4.692,"v":473},{"s":"rec","t":4.746,"v":479.5},{"s":"rec","t":4.86,"v":483.4},{"s":"rec","t":4.897,"v":479.9},{"s":"rec","t":4.958,"v":472.2},{"s":"rec","t":5.011,"v":482.4},{"s":"rec","t":5.072,"v":486.4},{"s":"rec","t":5.133,"v":492.9},{"s":"rec","t":5.179,"v":481.9},{"s":"rec","t":5.239,"v":487.4},{"s":"rec","t":5.315,"v":489.9},{"s":"rec","t":5.391,"v":491.9},{"s":"rec","t":5.429,"v":488.4},{"s":"rec","t":5.482,"v":492.4},{"s":"rec","t":5.543,"v":489.4},{"s":"rec","t":5.604,"v":488.4},{"s":"rec","t":5.68,"v":485.4},{"s":"rec","t":5.756,"v":481.9},{"s":"rec","t":5.831,"v":480.4},{"s":"rec","t":5.907,"v":482.9},{"s":"rec","t":5.998,"v":476.5},{"s":"rec","t":6.074,"v":477},{"s":"rec","t":6.15,"v":475},{"s":"rec","t":6.226,"v":474.5},{"s":"rec","t":6.302,"v":473},{"s":"rec","t":6.378,"v":476},{"s":"rec","t":6.43,"v":477.2},{"s":"rec","t":6.492,"v":477},{"s":"rec","t":6.55,"v":478.2},{"s":"rec","t":6.606,"v":478},{"s":"rec","t":6.65,"v":479.2},{"s":"rec","t":6.72,"v":478.7},{"s":"rec","t":6.78,"v":477.5},{"s":"rec","t":6.834,"v":477},{"s":"rec","t":6.925,"v":482.9},{"s":"rec","t":7.001,"v":483.2},{"s":"rec","t":7.062,"v":475.5},{"s":"rec","t":7.137,"v":476},{"s":"rec","t":7.213,"v":485.4},{"s":"rec","t":7.267,"v":487.4},{"s":"rec","t":7.327,"v":484.4},{"s":"rec","t":7.388,"v":478.7},{"s":"rec","t":7.441,"v":484.9},{"s":"rec","t":7.517,"v":485.9},{"s":"rec","t":7.631,"v":484.9},{"s":"rec","t":7.745,"v":484.4},{"s":"rec","t":7.859,"v":483.9},{"s":"rec","t":7.935,"v":481.9},{"s":"rec","t":8.049,"v":481.9},{"s":"rec","t":8.2,"v":480.9},{"s":"rec","t":8.25,"v":481.5},{"s":"rec","t":8.28,"v":479.8},{"s":"rec","t":8.4,"v":481},{"s":"rec","t":8.45,"v":479.2},{"s":"rec","t":8.55,"v":480.8},{"s":"rec","t":8.6,"v":478.8},{"s":"rec","t":8.7,"v":480.5},{"s":"rec","t":8.75,"v":478.5},{"s":"rec","t":8.85,"v":480.6},{"s":"rec","t":8.9,"v":478.6},{"s":"rec","t":9,"v":480.8},{"s":"rec","t":9.05,"v":479},{"s":"rec","t":9.15,"v":481},{"s":"rec","t":9.2,"v":479},{"s":"rec","t":9.3,"v":480.6},{"s":"rec","t":9.35,"v":478.8},{"s":"rec","t":9.45,"v":481.2},{"s":"rec","t":9.5,"v":479.2},{"s":"rec","t":9.6,"v":480.8},{"s":"rec","t":9.65,"v":479.3},{"s":"rec","t":9.75,"v":480.5},{"s":"rec","t":9.8,"v":479},{"s":"rec","t":9.9,"v":480.9},{"s":"rec","t":9.95,"v":479.4},{"s":"rec","t":10,"v":479.7},
      {"s":"sim","t":0,"v":477.7},{"s":"sim","t":0.38,"v":477.7},{"s":"sim","t":0.607,"v":477.5},{"s":"sim","t":0.911,"v":477.7},{"s":"sim","t":1.215,"v":478},{"s":"sim","t":1.519,"v":478.2},{"s":"sim","t":1.822,"v":478.5},{"s":"sim","t":2.05,"v":478.7},{"s":"sim","t":2.202,"v":478.5},{"s":"sim","t":2.354,"v":479},{"s":"sim","t":2.506,"v":481},{"s":"sim","t":2.658,"v":482.9},{"s":"sim","t":2.847,"v":485.2},{"s":"sim","t":3.037,"v":484.7},{"s":"sim","t":3.227,"v":483.7},{"s":"sim","t":3.417,"v":481.4},{"s":"sim","t":3.569,"v":478.2},{"s":"sim","t":3.721,"v":473.5},{"s":"sim","t":3.872,"v":469},{"s":"sim","t":4.024,"v":466},{"s":"sim","t":4.176,"v":465},{"s":"sim","t":4.29,"v":466.5},{"s":"sim","t":4.442,"v":471},{"s":"sim","t":4.594,"v":475.5},{"s":"sim","t":4.746,"v":478},{"s":"sim","t":4.897,"v":480.4},{"s":"sim","t":5.049,"v":483.4},{"s":"sim","t":5.201,"v":485.9},{"s":"sim","t":5.353,"v":487.7},{"s":"sim","t":5.505,"v":486.9},{"s":"sim","t":5.657,"v":484.9},{"s":"sim","t":5.809,"v":481.9},{"s":"sim","t":5.961,"v":478.5},{"s":"sim","t":6.112,"v":475.5},{"s":"sim","t":6.264,"v":473},{"s":"sim","t":6.378,"v":472},{"s":"sim","t":6.53,"v":473.5},{"s":"sim","t":6.682,"v":475.5},{"s":"sim","t":6.834,"v":477.5},{"s":"sim","t":6.986,"v":479},{"s":"sim","t":7.137,"v":480.4},{"s":"sim","t":7.289,"v":481.9},{"s":"sim","t":7.441,"v":483.7},{"s":"sim","t":7.593,"v":482.9},{"s":"sim","t":7.821,"v":481.2},{"s":"sim","t":8.049,"v":479.5},{"s":"sim","t":8.277,"v":478},{"s":"sim","t":8.504,"v":477.5},{"s":"sim","t":8.808,"v":477.2},{"s":"sim","t":9.112,"v":477.7},{"s":"sim","t":9.415,"v":478},{"s":"sim","t":9.719,"v":478.5},{"s":"sim","t":10,"v":478.6}
    ],
    "m1": [{"c":"a","v":80},{"c":"b","v":57.85},{"c":"c","v":38.78},{"c":"d","v":16.79}],
    "m2": [{"c":"a","v":-20.4},{"c":"b","v":-49.7},{"c":"c","v":-74.9},{"c":"d","v":-104.2}],
    "m3": [{"c":"a","v":49.4},{"c":"b","v":28},{"c":"c","v":9.2},{"c":"d","v":-12.3}],
    "m4": [{"c":"a","v":1.96},{"c":"b","v":-1.34},{"c":"c","v":-4.18},{"c":"d","v":-7.38}],
    "m5": [{"c":"a","v":61.49},{"c":"b","v":60.38},{"c":"c","v":59.44},{"c":"d","v":58.35}],
    "m6": [{"c":"a","v":499.6},{"c":"b","v":484.9},{"c":"c","v":472.5},{"c":"d","v":457.7}]
  },
  "concat": [
    {
      "width": 530, "height": 380,
      "title": {"text": "AOC kW SIMULATED & RECORDED", "offset": -32},
      "layer": [
        {"data": {"values": [{}]}, "mark": {"type": "rect", "filled": false, "stroke": "black", "strokeWidth": 2},
         "encoding": {
           "x": {"datum": 0, "type": "quantitative", "scale": {"domain": [-0.7017, 10.333], "nice": false, "zero": false}, "axis": {"title": "Time (sec)", "values": [0,1,2,3,4,5,6,7,8,9,10], "offset": -70.3, "titleX": 284}},
           "x2": {"datum": 10},
           "y": {"datum": 20, "type": "quantitative", "scale": {"domain": [4.226, 89.491], "nice": false, "zero": false}, "axis": {"title": null, "values": [20,30,40,50,60,70,80], "offset": -33.7}},
           "y2": {"datum": 80}}},
        {"data": {"name": "p1"}, "mark": {"type": "line", "interpolate": "monotone"},
         "encoding": {
           "x": {"field": "t", "type": "quantitative", "scale": {"domain": [-0.7017, 10.333], "nice": false, "zero": false}, "axis": {"title": "Time (sec)", "values": [0,1,2,3,4,5,6,7,8,9,10], "offset": -70.3, "titleX": 284}},
           "y": {"field": "v", "type": "quantitative", "scale": {"domain": [4.226, 89.491], "nice": false, "zero": false}, "axis": {"title": null, "values": [20,30,40,50,60,70,80], "offset": -33.7}},
           "color": {"field": "s", "type": "nominal", "scale": {"domain": ["rec", "sim"], "range": ["#0000DD", "#22EE22"]}, "legend": null}}},
        {"data": {"name": "m1"}, "mark": {"type": "rule", "stroke": "#0000FF", "strokeWidth": 3},
         "encoding": {
           "x": {"datum": -1.014, "type": "quantitative", "scale": {"domain": [-0.7017, 10.333], "nice": false, "zero": false}, "axis": {"title": "Time (sec)", "values": [0,1,2,3,4,5,6,7,8,9,10], "offset": -70.3, "titleX": 284}},
           "x2": {"datum": -0.868},
           "y": {"field": "v", "type": "quantitative", "scale": {"domain": [4.226, 89.491], "nice": false, "zero": false}, "axis": {"title": null, "values": [20,30,40,50,60,70,80], "offset": -33.7}}}},
        {"data": {"name": "m1"}, "mark": {"type": "point", "shape": "triangle-right", "filled": true, "size": 130, "stroke": "#0000FF", "strokeWidth": 1.8, "opacity": 1},
         "encoding": {
           "x": {"datum": -0.795, "type": "quantitative", "scale": {"domain": [-0.7017, 10.333], "nice": false, "zero": false}, "axis": {"title": "Time (sec)", "values": [0,1,2,3,4,5,6,7,8,9,10], "offset": -70.3, "titleX": 284}},
           "y": {"field": "v", "type": "quantitative", "scale": {"domain": [4.226, 89.491], "nice": false, "zero": false}, "axis": {"title": null, "values": [20,30,40,50,60,70,80], "offset": -33.7}},
           "fill": {"field": "c", "type": "nominal", "scale": {"domain": ["a","b","c","d"], "range": ["#FF0000","#0000FF","#22CC44","#FF00FF"]}, "legend": null}}}
      ]
    },
    {
      "width": 531, "height": 380,
      "title": {"text": "VL + DL SIMULATED & RECORDED", "offset": -30},
      "layer": [
        {"data": {"values": [{}]}, "mark": {"type": "rect", "filled": false, "stroke": "black", "strokeWidth": 2},
         "encoding": {
           "x": {"datum": 0, "type": "quantitative", "scale": {"domain": [-0.8949, 10.338], "nice": false, "zero": false}, "axis": {"title": "Time (sec)", "values": [0,2,4,6,8,10], "offset": -72, "titleX": 292}},
           "x2": {"datum": 10},
           "y": {"datum": -100, "type": "quantitative", "scale": {"domain": [-121.55, -7.818], "nice": false, "zero": false}, "axis": {"title": null, "values": [-100,-80,-60,-40,-20], "offset": -42.3, "labelExpr": "datum.value + ''"}},
           "y2": {"datum": -20}}},
        {"data": {"name": "p2"}, "mark": {"type": "line"},
         "encoding": {
           "x": {"field": "t", "type": "quantitative", "scale": {"domain": [-0.8949, 10.338], "nice": false, "zero": false}, "axis": {"title": "Time (sec)", "values": [0,2,4,6,8,10], "offset": -72, "titleX": 292}},
           "y": {"field": "v", "type": "quantitative", "scale": {"domain": [-121.55, -7.818], "nice": false, "zero": false}, "axis": {"title": null, "values": [-100,-80,-60,-40,-20], "offset": -42.3, "labelExpr": "datum.value + ''"}},
           "color": {"field": "s", "type": "nominal", "scale": {"domain": ["rec", "sim"], "range": ["#0000DD", "#22EE22"]}, "legend": null}}},
        {"data": {"name": "m2"}, "mark": {"type": "rule", "stroke": "#0000FF", "strokeWidth": 3},
         "encoding": {
           "x": {"datum": -1.212, "type": "quantitative", "scale": {"domain": [-0.8949, 10.338], "nice": false, "zero": false}, "axis": {"title": "Time (sec)", "values": [0,2,4,6,8,10], "offset": -72, "titleX": 292}},
           "x2": {"datum": -1.064},
           "y": {"field": "v", "type": "quantitative", "scale": {"domain": [-121.55, -7.818], "nice": false, "zero": false}, "axis": {"title": null, "values": [-100,-80,-60,-40,-20], "offset": -42.3, "labelExpr": "datum.value + ''"}}}},
        {"data": {"name": "m2"}, "mark": {"type": "point", "shape": "triangle-right", "filled": true, "size": 130, "stroke": "#0000FF", "strokeWidth": 1.8, "opacity": 1},
         "encoding": {
           "x": {"datum": -0.99, "type": "quantitative", "scale": {"domain": [-0.8949, 10.338], "nice": false, "zero": false}, "axis": {"title": "Time (sec)", "values": [0,2,4,6,8,10], "offset": -72, "titleX": 292}},
           "y": {"field": "v", "type": "quantitative", "scale": {"domain": [-121.55, -7.818], "nice": false, "zero": false}, "axis": {"title": null, "values": [-100,-80,-60,-40,-20], "offset": -42.3, "labelExpr": "datum.value + ''"}},
           "fill": {"field": "c", "type": "nominal", "scale": {"domain": ["a","b","c","d"], "range": ["#FF0000","#0000FF","#22CC44","#FF00FF"]}, "legend": null}}}
      ]
    },
    {
      "width": 530, "height": 383,
      "title": {"text": "DG kW SIMULATED & RECORDED", "offset": -33},
      "layer": [
        {"data": {"values": [{}]}, "mark": {"type": "rect", "filled": false, "stroke": "black", "strokeWidth": 2},
         "encoding": {
           "x": {"datum": 0, "type": "quantitative", "scale": {"domain": [-0.7284, 10.302], "nice": false, "zero": false}, "axis": {"title": "Time (sec)", "values": [0,1,2,3,4,5,6,7,8,9,10], "offset": -68.3, "titleX": 287}},
           "x2": {"datum": 10},
           "y": {"datum": -10, "type": "quantitative", "scale": {"domain": [-25.11, 59.62], "nice": false, "zero": false}, "axis": {"title": null, "values": [-10,0,10,20,30,40,50], "offset": -35, "labelExpr": "datum.value + ''"}},
           "y2": {"datum": 50}}},
        {"data": {"name": "p3"}, "mark": {"type": "line", "interpolate": "monotone"},
         "encoding": {
           "x": {"field": "t", "type": "quantitative", "scale": {"domain": [-0.7284, 10.302], "nice": false, "zero": false}, "axis": {"title": "Time (sec)", "values": [0,1,2,3,4,5,6,7,8,9,10], "offset": -68.3, "titleX": 287}},
           "y": {"field": "v", "type": "quantitative", "scale": {"domain": [-25.11, 59.62], "nice": false, "zero": false}, "axis": {"title": null, "values": [-10,0,10,20,30,40,50], "offset": -35, "labelExpr": "datum.value + ''"}},
           "color": {"field": "s", "type": "nominal", "scale": {"domain": ["rec", "sim"], "range": ["#0000DD", "#22EE22"]}, "legend": null}}},
        {"data": {"name": "m3"}, "mark": {"type": "rule", "stroke": "#0000FF", "strokeWidth": 3},
         "encoding": {
           "x": {"datum": -1.041, "type": "quantitative", "scale": {"domain": [-0.7284, 10.302], "nice": false, "zero": false}, "axis": {"title": "Time (sec)", "values": [0,1,2,3,4,5,6,7,8,9,10], "offset": -68.3, "titleX": 287}},
           "x2": {"datum": -0.895},
           "y": {"field": "v", "type": "quantitative", "scale": {"domain": [-25.11, 59.62], "nice": false, "zero": false}, "axis": {"title": null, "values": [-10,0,10,20,30,40,50], "offset": -35, "labelExpr": "datum.value + ''"}}}},
        {"data": {"name": "m3"}, "mark": {"type": "point", "shape": "triangle-right", "filled": true, "size": 130, "stroke": "#0000FF", "strokeWidth": 1.8, "opacity": 1},
         "encoding": {
           "x": {"datum": -0.822, "type": "quantitative", "scale": {"domain": [-0.7284, 10.302], "nice": false, "zero": false}, "axis": {"title": "Time (sec)", "values": [0,1,2,3,4,5,6,7,8,9,10], "offset": -68.3, "titleX": 287}},
           "y": {"field": "v", "type": "quantitative", "scale": {"domain": [-25.11, 59.62], "nice": false, "zero": false}, "axis": {"title": null, "values": [-10,0,10,20,30,40,50], "offset": -35, "labelExpr": "datum.value + ''"}},
           "fill": {"field": "c", "type": "nominal", "scale": {"domain": ["a","b","c","d"], "range": ["#FF0000","#0000FF","#22CC44","#FF00FF"]}, "legend": null}}}
      ]
    },
    {
      "width": 531, "height": 383,
      "title": {"text": "kW BALANCE SIMULATED & RECORDED", "offset": -35},
      "layer": [
        {"data": {"values": [{}]}, "mark": {"type": "rect", "filled": false, "stroke": "black", "strokeWidth": 2},
         "encoding": {
           "x": {"datum": 0, "type": "quantitative", "scale": {"domain": [-0.6273, 10.33], "nice": false, "zero": false}, "axis": {"title": "Time (sec)", "values": [0,1,2,3,4,5,6,7,8,9,10], "offset": -68.3, "titleX": 285}},
           "x2": {"datum": 10},
           "y": {"datum": -7, "type": "quantitative", "scale": {"domain": [-9.277, 3.49], "nice": false, "zero": false}, "axis": {"title": null, "values": [-6,-4,-2,0,2], "offset": -30.4, "labelExpr": "datum.value + ''"}},
           "y2": {"datum": 2}}},
        {"data": {"name": "p4"}, "mark": {"type": "line"},
         "encoding": {
           "x": {"field": "t", "type": "quantitative", "scale": {"domain": [-0.6273, 10.33], "nice": false, "zero": false}, "axis": {"title": "Time (sec)", "values": [0,1,2,3,4,5,6,7,8,9,10], "offset": -68.3, "titleX": 285}},
           "y": {"field": "v", "type": "quantitative", "scale": {"domain": [-9.277, 3.49], "nice": false, "zero": false}, "axis": {"title": null, "values": [-6,-4,-2,0,2], "offset": -30.4, "labelExpr": "datum.value + ''"}},
           "color": {"field": "s", "type": "nominal", "scale": {"domain": ["rec", "sim"], "range": ["#0000DD", "#22EE22"]}, "legend": null}}},
        {"data": {"name": "m4"}, "mark": {"type": "rule", "stroke": "#0000FF", "strokeWidth": 3},
         "encoding": {
           "x": {"datum": -0.937, "type": "quantitative", "scale": {"domain": [-0.6273, 10.33], "nice": false, "zero": false}, "axis": {"title": "Time (sec)", "values": [0,1,2,3,4,5,6,7,8,9,10], "offset": -68.3, "titleX": 285}},
           "x2": {"datum": -0.792},
           "y": {"field": "v", "type": "quantitative", "scale": {"domain": [-9.277, 3.49], "nice": false, "zero": false}, "axis": {"title": null, "values": [-6,-4,-2,0,2], "offset": -30.4, "labelExpr": "datum.value + ''"}}}},
        {"data": {"name": "m4"}, "mark": {"type": "point", "shape": "triangle-right", "filled": true, "size": 130, "stroke": "#0000FF", "strokeWidth": 1.8, "opacity": 1},
         "encoding": {
           "x": {"datum": -0.72, "type": "quantitative", "scale": {"domain": [-0.6273, 10.33], "nice": false, "zero": false}, "axis": {"title": "Time (sec)", "values": [0,1,2,3,4,5,6,7,8,9,10], "offset": -68.3, "titleX": 285}},
           "y": {"field": "v", "type": "quantitative", "scale": {"domain": [-9.277, 3.49], "nice": false, "zero": false}, "axis": {"title": null, "values": [-6,-4,-2,0,2], "offset": -30.4, "labelExpr": "datum.value + ''"}},
           "fill": {"field": "c", "type": "nominal", "scale": {"domain": ["a","b","c","d"], "range": ["#FF0000","#0000FF","#22CC44","#FF00FF"]}, "legend": null}}}
      ]
    },
    {
      "width": 530, "height": 376,
      "title": {"text": "FREQUENCY SIMULATED & RECORDED", "offset": -30},
      "layer": [
        {"data": {"values": [{}]}, "mark": {"type": "rect", "filled": false, "stroke": "black", "strokeWidth": 2},
         "encoding": {
           "x": {"datum": 0, "type": "quantitative", "scale": {"domain": [-1.146, 10.314], "nice": false, "zero": false}, "axis": {"title": "Time (sec)", "values": [0,2,4,6,8,10], "offset": -67.7, "titleX": 295}},
           "x2": {"datum": 10},
           "y": {"datum": 58.5, "type": "quantitative", "scale": {"domain": [57.741, 61.956], "nice": false, "zero": false}, "axis": {"title": null, "values": [58.5,59,59.5,60,60.5,61,61.5], "format": ".1f", "offset": -53}},
           "y2": {"datum": 61.5}}},
        {"data": {"name": "p5"}, "mark": {"type": "line", "interpolate": "monotone"},
         "encoding": {
           "x": {"field": "t", "type": "quantitative", "scale": {"domain": [-1.146, 10.314], "nice": false, "zero": false}, "axis": {"title": "Time (sec)", "values": [0,2,4,6,8,10], "offset": -67.7, "titleX": 295}},
           "y": {"field": "v", "type": "quantitative", "scale": {"domain": [57.741, 61.956], "nice": false, "zero": false}, "axis": {"title": null, "values": [58.5,59,59.5,60,60.5,61,61.5], "format": ".1f", "offset": -53}},
           "color": {"field": "s", "type": "nominal", "scale": {"domain": ["rec", "sim"], "range": ["#0000DD", "#22EE22"]}, "legend": null}}},
        {"data": {"name": "m5"}, "mark": {"type": "rule", "stroke": "#0000FF", "strokeWidth": 3},
         "encoding": {
           "x": {"datum": -1.47, "type": "quantitative", "scale": {"domain": [-1.146, 10.314], "nice": false, "zero": false}, "axis": {"title": "Time (sec)", "values": [0,2,4,6,8,10], "offset": -67.7, "titleX": 295}},
           "x2": {"datum": -1.319},
           "y": {"field": "v", "type": "quantitative", "scale": {"domain": [57.741, 61.956], "nice": false, "zero": false}, "axis": {"title": null, "values": [58.5,59,59.5,60,60.5,61,61.5], "format": ".1f", "offset": -53}}}},
        {"data": {"name": "m5"}, "mark": {"type": "point", "shape": "triangle-right", "filled": true, "size": 130, "stroke": "#0000FF", "strokeWidth": 1.8, "opacity": 1},
         "encoding": {
           "x": {"datum": -1.243, "type": "quantitative", "scale": {"domain": [-1.146, 10.314], "nice": false, "zero": false}, "axis": {"title": "Time (sec)", "values": [0,2,4,6,8,10], "offset": -67.7, "titleX": 295}},
           "y": {"field": "v", "type": "quantitative", "scale": {"domain": [57.741, 61.956], "nice": false, "zero": false}, "axis": {"title": null, "values": [58.5,59,59.5,60,60.5,61,61.5], "format": ".1f", "offset": -53}},
           "fill": {"field": "c", "type": "nominal", "scale": {"domain": ["a","b","c","d"], "range": ["#FF0000","#0000FF","#22CC44","#FF00FF"]}, "legend": null}}}
      ]
    },
    {
      "width": 531, "height": 376,
      "title": {"text": "VOLTAGE SIMULATED & RECORDED", "offset": -28},
      "layer": [
        {"data": {"values": [{}]}, "mark": {"type": "rect", "filled": false, "stroke": "black", "strokeWidth": 2},
         "encoding": {
           "x": {"datum": 0, "type": "quantitative", "scale": {"domain": [-0.969, 10.341], "nice": false, "zero": false}, "axis": {"title": "Time (sec)", "values": [0,2,4,6,8,10], "offset": -70.3, "titleX": 293}},
           "x2": {"datum": 10},
           "y": {"datum": 460, "type": "quantitative", "scale": {"domain": [449.48, 505.73], "nice": false, "zero": false}, "axis": {"title": null, "values": [460,470,480,490,500], "offset": -45.5}},
           "y2": {"datum": 500}}},
        {"data": {"name": "p6"}, "mark": {"type": "line"},
         "encoding": {
           "x": {"field": "t", "type": "quantitative", "scale": {"domain": [-0.969, 10.341], "nice": false, "zero": false}, "axis": {"title": "Time (sec)", "values": [0,2,4,6,8,10], "offset": -70.3, "titleX": 293}},
           "y": {"field": "v", "type": "quantitative", "scale": {"domain": [449.48, 505.73], "nice": false, "zero": false}, "axis": {"title": null, "values": [460,470,480,490,500], "offset": -45.5}},
           "color": {"field": "s", "type": "nominal", "scale": {"domain": ["rec", "sim"], "range": ["#0000DD", "#22EE22"]}, "legend": null}}},
        {"data": {"name": "m6"}, "mark": {"type": "rule", "stroke": "#0000FF", "strokeWidth": 3},
         "encoding": {
           "x": {"datum": -1.289, "type": "quantitative", "scale": {"domain": [-0.969, 10.341], "nice": false, "zero": false}, "axis": {"title": "Time (sec)", "values": [0,2,4,6,8,10], "offset": -70.3, "titleX": 293}},
           "x2": {"datum": -1.14},
           "y": {"field": "v", "type": "quantitative", "scale": {"domain": [449.48, 505.73], "nice": false, "zero": false}, "axis": {"title": null, "values": [460,470,480,490,500], "offset": -45.5}}}},
        {"data": {"name": "m6"}, "mark": {"type": "point", "shape": "triangle-right", "filled": true, "size": 130, "stroke": "#0000FF", "strokeWidth": 1.8, "opacity": 1},
         "encoding": {
           "x": {"datum": -1.065, "type": "quantitative", "scale": {"domain": [-0.969, 10.341], "nice": false, "zero": false}, "axis": {"title": "Time (sec)", "values": [0,2,4,6,8,10], "offset": -70.3, "titleX": 293}},
           "y": {"field": "v", "type": "quantitative", "scale": {"domain": [449.48, 505.73], "nice": false, "zero": false}, "axis": {"title": null, "values": [460,470,480,490,500], "offset": -45.5}},
           "fill": {"field": "c", "type": "nominal", "scale": {"domain": ["a","b","c","d"], "range": ["#FF0000","#0000FF","#22CC44","#FF00FF"]}, "legend": null}}}
      ]
    }
  ]
}
